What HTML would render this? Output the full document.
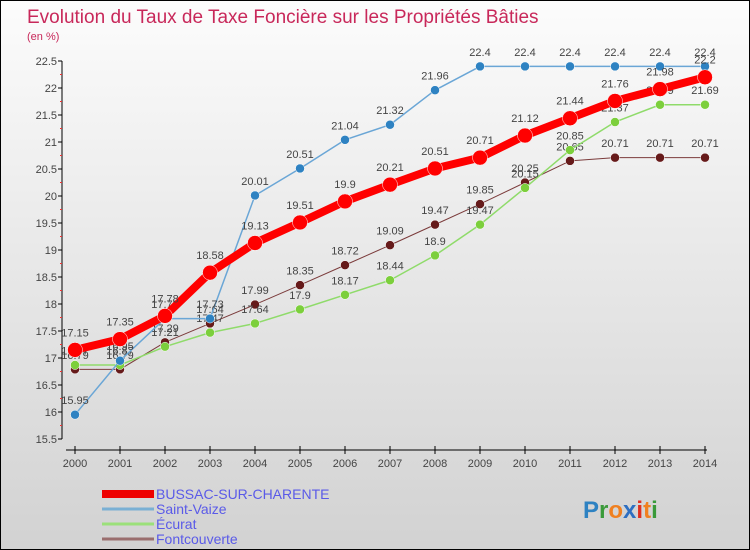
<!DOCTYPE html>
<html><head><meta charset="utf-8"><style>
body{margin:0}
#wrap{position:relative;width:748px;height:548px;border:1px solid #000;background:linear-gradient(#fcfcfc,#d2d2d2);font-family:"Liberation Sans",sans-serif;overflow:hidden}
</style></head><body>
<div id="wrap">
<svg id="c" width="748" height="548"></svg>
</div>
<script>
const years=[2000,2001,2002,2003,2004,2005,2006,2007,2008,2009,2010,2011,2012,2013,2014];
const yTicks=[15.5,16,16.5,17,17.5,18,18.5,19,19.5,20,20.5,21,21.5,22,22.5];
const bussac=[17.15,17.35,17.78,18.58,19.13,19.51,19.9,20.21,20.51,20.71,21.12,21.44,21.76,21.98,22.2];
const vaize=[15.95,16.95,17.73,17.73,20.01,20.51,21.04,21.32,21.96,22.4,22.4,22.4,22.4,22.4,22.4];
const ecurat=[16.87,16.87,17.21,17.47,17.64,17.9,18.17,18.44,18.9,19.47,20.15,20.85,21.37,21.69,21.69];
const fontc=[16.79,16.79,17.29,17.64,17.99,18.35,18.72,19.09,19.47,19.85,20.25,20.65,20.71,20.71,20.71];
const seriesNames=["BUSSAC-SUR-CHARENTE","Saint-Vaize","Écurat","Fontcouverte"];
const svg=document.getElementById('c');const NS='http://www.w3.org/2000/svg';
const X=i=>74+i*(704-74)/(years.length-1);
const Y=v=>438-(v-15.5)*54;
function el(t,a,p){const e=document.createElementNS(NS,t);for(const k in a)e.setAttribute(k,a[k]);(p||svg).appendChild(e);return e;}
function tx(x,y,s,a,fill,size){const e=el('text',{x:x,y:y,'text-anchor':a||'middle',fill:fill||'#444','font-size':size||11});e.textContent=s;return e;}
let t=tx(26,22,'Evolution du Taux de Taxe Foncière sur les Propriétés Bâties','start','#c8285a',19);

t=tx(26,39,'(en %)','start','#c8285a',11);

let a=el('line',{x1:61,y1:60,x2:61,y2:438,stroke:'#000'});

yTicks.forEach(v=>{el('line',{x1:57,x2:61,y1:Y(v),y2:Y(v),stroke:'#000'});
 if(v<22.5)el('line',{x1:59,x2:61,y1:Y(v+0.25),y2:Y(v+0.25),stroke:'#e33'});
 const l=tx(56,Y(v)+4,String(v),'end','#444',11);});
a=el('line',{x1:65,y1:449,x2:706,y2:449,stroke:'#000'});

years.forEach((y,i)=>{el('line',{x1:X(i),x2:X(i),y1:445,y2:453,stroke:'#000'});
 const l=tx(X(i),466,String(y),'middle','#444',11);});
function series(d,color,w,r,dot,name){
 const p=el('polyline',{points:d.map((v,i)=>X(i)+','+Y(v)).join(' '),fill:'none',stroke:color,'stroke-width':w,'stroke-linejoin':'round'});
 
 d.forEach((v,i)=>{const c=el('circle',{cx:X(i),cy:Y(v),r:r,fill:dot,stroke:'#fff','stroke-width':0.5});
  
  const l=tx(X(i),Y(v)-(r+6),String(v),'middle','#444',11);});
}
series(fontc,'#7b3b3b',1,4.5,'#661a1a','fontcouverte');
series(ecurat,'#8fdb6a',1.5,4.5,'#7ccf3c','ecurat');
series(vaize,'#6aa6d6',1.5,4.5,'#2e82c2','saint-vaize');
series(bussac,'#ff0000',8,7.5,'#ff0000','bussac');
const leg=[['#e00',8],['#7ab0d4',3],['#9be07a',3],['#9a6e6e',3]];
seriesNames.forEach((n,i)=>{const y=493+i*15;
 const g=el('g',{});
 el('line',{x1:101,x2:153,y1:y,y2:y,stroke:leg[i][0],'stroke-width':leg[i][1]},g);
 const l=tx(155,y+5,n,'start','#5a5ae8',14);g.appendChild(l);});
const lg=el('text',{x:582,y:517,'font-size':24,'font-weight':'bold'});
[['P','#2e82c2'],['r','#3a9a3a'],['o','#f08020'],['x','#2e6fc2'],['i','#e03020'],['t','#f08020'],['i','#3a9a3a']].forEach(([c,f])=>{const s=el('tspan',{fill:f},lg);s.textContent=c;});
</script>
</body></html>
